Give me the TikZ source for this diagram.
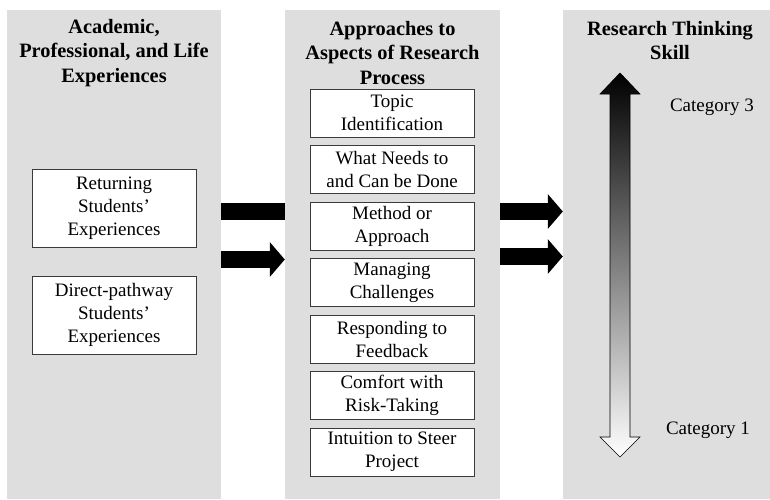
\documentclass[tikz,border=0pt]{standalone}
\usepackage{fontspec}
\setmainfont{Liberation Serif}
\usetikzlibrary{arrows.meta}
\definecolor{panelgray}{HTML}{DEDEDE}
\definecolor{boxline}{HTML}{3A3A3A}
\tikzset{
  panel/.style={fill=panelgray, draw=none, inner sep=0pt},
  head/.style={font=\fontsize{20.4}{24.5}\selectfont\bfseries, align=center},
  body/.style={font=\fontsize{19}{23}\selectfont, align=center},
  stepbox/.style={body, draw=boxline, fill=white, line width=0.9pt, minimum width=164pt, minimum height=48pt, inner sep=0pt},
  fat/.style={line width=17pt, -{Triangle[length=15pt,width=34pt]}},
}
\begin{document}
\begin{tikzpicture}[x=1pt, y=-1pt]
     \useasboundingbox (0,0) rectangle (770,499);
     \node[panel, minimum width=214pt, minimum height=489pt] (exp) at (114,254.5) {};
     \node[panel, minimum width=215pt, minimum height=489pt] (apr) at (392.5,254.5) {};
     \node[panel, minimum width=207pt, minimum height=489pt] (skl) at (666.5,254.5) {};
     \node[head] (exptitle) at (114,53) {Academic,\\Professional, and Life\\Experiences};
     \node[head] (aprtitle) at (392.5,53) {Approaches to\\Aspects of Research\\Process};
     \node[head] (skltitle) at (670,40.5) {Research Thinking\\Skill};
     \node[stepbox, minimum height=78pt] (ret) at (114,208) {Returning\\Students’\\Experiences};
     \node[stepbox, minimum height=78pt] (dir) at (114,315) {Direct-pathway\\Students’\\Experiences};
     \foreach \txt [count=\i] in {{Topic\\Identification}, {What Needs to\\and Can be Done}, {Method or\\Approach}, {Managing\\Challenges}, {Responding to\\Feedback}, {Comfort with\\Risk-Taking}, {Intuition to Steer\\Project}}
     {
         \node[stepbox] (asp\i) at (392,56.5+56.5*\i) {\txt};
     }
     \draw[line width=17pt] (exp.east |- 0,211.5) -- (apr.west |- 0,211.5);
     \draw[fat] (exp.east |- 0,259.5) -- (apr.west |- 0,259.5);
     \draw[fat] (apr.east |- 0,211.5) -- (skl.west |- 0,211.5);
     \draw[fat] (apr.east |- 0,256.5) -- (skl.west |- 0,256.5);
     \shadedraw[top color=black, bottom color=white, draw=black, line width=0.6pt]
         (620,73) -- (640,94) -- (630,94) -- (630,437) -- (640,437) -- (620,457)
         -- (600,437) -- (610,437) -- (610,94) -- (600,94) -- cycle;
     \node[body] (cat3) at (712,107) {Category 3};
     \node[body] (cat1) at (708,430) {Category 1};
 \end{tikzpicture}
\end{document}
